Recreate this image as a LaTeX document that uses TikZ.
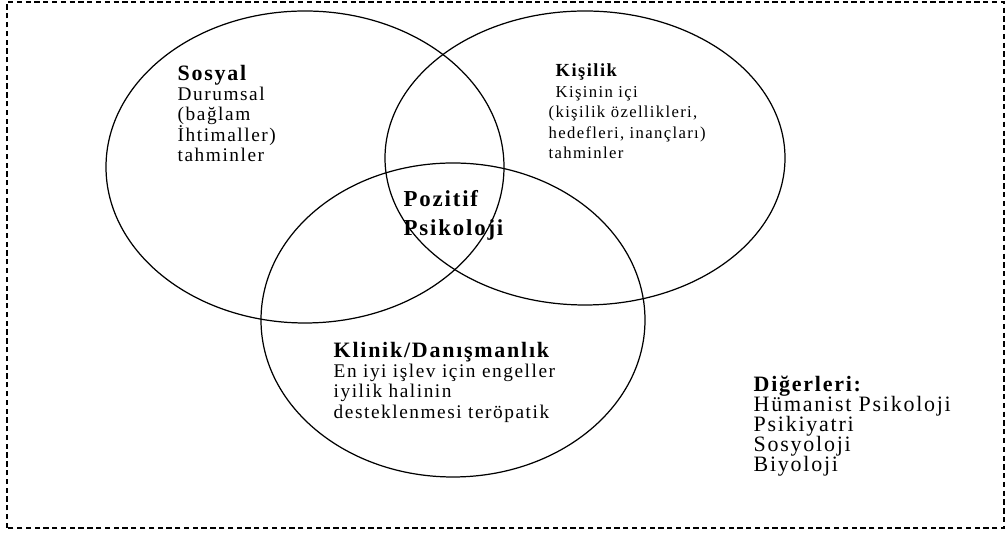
\documentclass[tikz,border=0pt]{standalone}
\usepackage{fontspec}
\setmainfont{Liberation Serif}[LetterSpace=8]
\lineskiplimit=-20pt
\newcommand{\hd}[1]{{\fontsize{12.5}{11.4}\selectfont\bfseries #1}}
\begin{document}
\begin{tikzpicture}[x=0.02cm,y=0.02cm,thick,
  field/.style={anchor=north west,align=left,inner sep=0pt,font=\fontsize{11}{11.4}\selectfont},
  core/.style={anchor=north west,align=left,inner sep=0pt,font=\fontsize{13}{16.5}\selectfont\bfseries}]
\useasboundingbox (0,0) rectangle (1008,537);
\draw[densely dashed,line width=1pt] (7,9) rectangle (1004,535);
\draw[line width=0.7pt] (305,370) ellipse [x radius=199,y radius=156];
\draw[line width=0.7pt] (585,379) ellipse [x radius=200,y radius=147];
\draw[line width=0.7pt] (453,217) ellipse [x radius=192,y radius=157];
\node[field] (sosyal) at (177,472) {\hd{Sosyal}\\ Durumsal\\ (bağlam\\ İhtimaller)\\ tahminler};
\node[field,font=\fontsize{9.5}{11.7}\selectfont] (kisilik) at (548,474) {\hspace{4pt}{\fontsize{10.5}{11.7}\selectfont\bfseries Kişilik}\\ \hspace{4pt}Kişinin içi\\ (kişilik özellikleri,\\ hedefleri, inançları)\\ tahminler};
\node[core] (pozitif) at (403,347) {Pozitif\\ Psikoloji};
\node[field] (klinik) at (333,195) {\hd{Klinik/Danışmanlık}\\ En iyi işlev için engeller\\ iyilik halinin\\ desteklenmesi teröpatik};
\node[field,font=\fontsize{12.5}{11.4}\selectfont] (diger) at (753,162) {\hd{Diğerleri:}\\ Hümanist Psikoloji\\ Psikiyatri\\ Sosyoloji\\ Biyoloji};
\end{tikzpicture}
\end{document}
